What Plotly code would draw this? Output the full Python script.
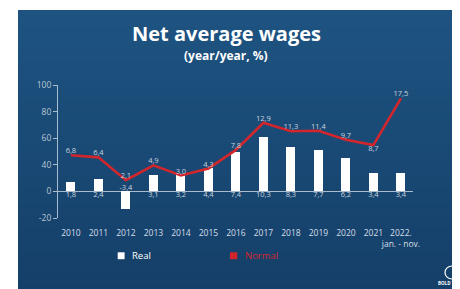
import plotly.graph_objects as go

# ---- data ----
years = ["2010", "2011", "2012", "2013", "2014", "2015", "2016",
         "2017", "2018", "2019", "2020", "2021", "2022.<br>jan. - nov."]
real = [1.8, 2.4, -3.4, 3.1, 3.2, 4.4, 7.4, 10.3, 8.3, 7.7, 6.2, 3.4, 3.4]
normal = [6.8, 6.4, 2.1, 4.9, 3.0, 4.3, 7.8, 12.9, 11.3, 11.4, 9.7, 8.7, 17.5]
ytick_vals = [-5, 0, 5, 10, 15, 20]
ytick_text = ["-20", "0", "40", "60", "80", "100"]

def fmt(v):
    return f"{v:.1f}".replace(".", ",")

real_text = [fmt(v) for v in real]
normal_text = [fmt(v) for v in normal]
real_pos = ["bottom center" if v >= 0 else "top center" for v in real]
normal_pos = ["top center"] * len(normal)
normal_pos[11] = "bottom center"

# ---- layout geometry (page body has an 8px default margin) ----
OFF = 8
W, H = 460, 289
PW, PH = 355, 133
ML = 58 - OFF
MT = 85 - OFF
MR = W - ML - PW
MB = H - MT - PH

def px(x):
    return (x - OFF - ML) / PW

def py(y):
    return (MT + PH - (y - OFF)) / PH

FONT = "Open Sans"
LABEL = "#c9d4df"

fig = go.Figure()

fig.add_trace(go.Bar(
    x=years, y=real, width=0.33, marker=dict(color="white", line=dict(width=0)),
    showlegend=False, hoverinfo="skip"))

fig.add_trace(go.Scatter(
    x=years, y=[0] * len(real), mode="text", text=real_text, textposition=real_pos,
    textfont=dict(size=7.5, color=LABEL, family=FONT), showlegend=False,
    cliponaxis=False, hoverinfo="skip"))

fig.add_trace(go.Scatter(
    x=years, y=normal, mode="lines+text", text=normal_text, textposition=normal_pos,
    line=dict(color="#d3262c", width=2.6), textfont=dict(size=7.5, color=LABEL, family=FONT),
    showlegend=False, cliponaxis=False, hoverinfo="skip"))

# background: fine vertical gradient, each band runs to the bottom (no seams)
shapes = []
top_c = (30, 83, 129)
bot_c = (20, 63, 104)
y0, y1 = 10, H + OFF
n = 50
for i in range(n):
    t = i / (n - 1)
    c = tuple(int(round(top_c[k] + (bot_c[k] - top_c[k]) * t)) for k in range(3))
    ya = y0 + (y1 - y0) * i / n
    shapes.append(dict(type="rect", xref="paper", yref="paper", layer="below",
                       x0=px(18), x1=px(W + OFF + 2), y0=py(y1 + 2), y1=py(ya),
                       fillcolor=f"rgb{c}", line=dict(width=0, color=f"rgb{c}")))

# legend squares
shapes.append(dict(type="rect", xref="paper", yref="paper", x0=px(117.7), x1=px(124.6),
                   y0=py(259.2), y1=py(252.3), fillcolor="white", line=dict(width=0)))
shapes.append(dict(type="rect", xref="paper", yref="paper", x0=px(230), x1=px(237.3),
                   y0=py(259.2), y1=py(252.3), fillcolor="#d3262c", line=dict(width=0)))
# logo circle
shapes.append(dict(type="circle", xref="paper", yref="paper", x0=px(445), x1=px(459),
                   y0=py(279), y1=py(266), line=dict(color="white", width=1.2)))

annotations = [
    dict(text="<b>Net average wages</b>", x=px(226), y=py(33.5), xref="paper", yref="paper",
         showarrow=False, font=dict(size=20, color="white", family=FONT),
         xanchor="center", yanchor="middle"),
    dict(text="<b>(year/year, %)</b>", x=px(226), y=py(55.3), xref="paper", yref="paper",
         showarrow=False, font=dict(size=12, color="white", family=FONT),
         xanchor="center", yanchor="middle"),
    dict(text="Real", x=px(130), y=py(255.8), xref="paper", yref="paper", showarrow=False,
         font=dict(size=9.5, color="white", family=FONT), xanchor="left", yanchor="middle"),
    dict(text="Normal", x=px(242.5), y=py(255.8), xref="paper", yref="paper", showarrow=False,
         font=dict(size=9.5, color="#d3262c", family=FONT), xanchor="left", yanchor="middle"),
    dict(text="<b>BOLD TE</b>", x=px(459), y=py(282.5), xref="paper", yref="paper",
         showarrow=False, font=dict(size=4.5, color="white", family=FONT),
         xanchor="right", yanchor="middle"),
]

fig.update_layout(
    width=W, height=H, margin=dict(l=ML, r=MR, t=MT, b=MB, pad=0),
    paper_bgcolor="white", plot_bgcolor="rgba(0,0,0,0)",
    shapes=shapes, annotations=annotations, bargap=0,
    font=dict(family=FONT),
)
fig.update_xaxes(
    type="category", range=[-0.47, 12.44], showgrid=False, showline=False, zeroline=False,
    ticks="outside", ticklen=7, tickcolor="rgba(0,0,0,0)", tickangle=0,
    tickfont=dict(size=8.5, color="#d6dee7", family=FONT), fixedrange=True)
fig.update_yaxes(
    range=[-5, 20], tickvals=ytick_vals, ticktext=ytick_text, showgrid=False,
    showline=True, linecolor="#a9bccd", linewidth=1, ticks="outside", ticklen=4,
    tickcolor="#a9bccd", tickfont=dict(size=8.5, color="#b9c7d5", family=FONT),
    zeroline=True, zerolinecolor="#a9bccd", zerolinewidth=1, fixedrange=True)

fig.write_html("out.html")
